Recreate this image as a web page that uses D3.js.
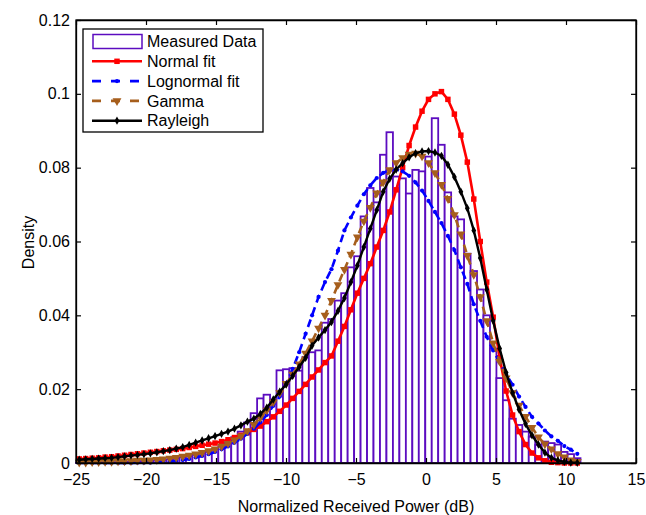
<!DOCTYPE html>
<html>
<head>
<meta charset="utf-8">
<script src="https://cdn.jsdelivr.net/npm/d3@7"></script>
<style>
body { margin: 0; background: #fff; }
text { font-family: "Liberation Sans", Arial, Helvetica, sans-serif; }
</style>
</head>
<body>
<div id="chart"></div>
<script>
// histogram bins (dB) and densities
var binStart = -25;
var binWidth = 0.462;
var measured = [0.0001,0,0.0001,0.0002,0.0001,0.0002,0.0002,0.0003,0.0003,0.0004,
  0.0005,0.0006,0.0007,0.0008,0.001,0.0012,0.0015,0.0018,0.0022,0.0026,
  0.003,0.0038,0.0045,0.0055,0.007,0.0085,0.011,0.0135,0.0175,0.0185,
  0.017,0.0251,0.0254,0.0257,0.025,0.0287,0.030,0.0305,0.038,0.039,
  0.044,0.046,0.053,0.056,0.0668,0.0745,0.0706,0.0835,0.0896,0.0776,
  0.0771,0.073,0.0794,0.079,0.083,0.0934,0.0862,0.0733,0.0668,0.066,
  0.0567,0.052,0.047,0.040,0.031,0.023,0.017,0.012,0.0103,0.0085,
  0.0071,0.0049,0.0058,0.0054,0.005,0.003,0.0024,0.0013];

// fitted densities at each bin centre
var normalFit = [0.0011,0.0012,0.0013,0.0014,0.0016,0.0017,0.0019,0.0021,0.0023,0.0025,
  0.0027,0.0029,0.0031,0.0033,0.0035,0.0037,0.0039,0.0042,0.0045,0.0048,
  0.0051,0.0054,0.0058,0.0063,0.0069,0.0075,0.0082,0.0091,0.0100,0.0112,
  0.0125,0.0140,0.0157,0.0175,0.0194,0.0213,0.0233,0.0252,0.0272,0.0290,
  0.0330,0.0370,0.0415,0.0460,0.0500,0.0540,0.0585,0.0630,0.0680,0.0740,
  0.0800,0.0860,0.0910,0.0953,0.0985,0.1000,0.1006,0.0985,0.0945,0.0888,
  0.0815,0.0715,0.0600,0.0490,0.0395,0.0285,0.0195,0.0130,0.0085,0.0050,
  0.0027,0.0014,0.0006,0.0002,0.0001,0,0,0];
var lognormalFit = [0,0,0,0,0,0,0,0,0,0.0001,
  0.0001,0.0001,0.0002,0.0003,0.0004,0.0006,0.0008,0.0011,0.0015,0.0019,
  0.0024,0.0030,0.0037,0.0045,0.0055,0.0066,0.0079,0.0093,0.0110,0.0130,
  0.0155,0.0180,0.0215,0.0255,0.0300,0.0350,0.0400,0.0450,0.0490,0.0525,
  0.0575,0.0630,0.0665,0.0697,0.0728,0.0752,0.0772,0.0786,0.0793,0.0795,
  0.0790,0.0778,0.0760,0.0738,0.0710,0.0680,0.0650,0.0615,0.0577,0.0530,
  0.0485,0.0430,0.0385,0.0342,0.0305,0.0272,0.0240,0.0212,0.0180,0.0152,
  0.0125,0.0107,0.0088,0.0072,0.0060,0.0046,0.0036,0.0025];
var gammaFit = [0.0002,0.0002,0.0003,0.0003,0.0004,0.0004,0.0005,0.0005,0.0006,0.0007,
  0.0007,0.0008,0.0009,0.0011,0.0013,0.0015,0.0018,0.0021,0.0024,0.0028,
  0.0033,0.0038,0.0045,0.0053,0.0062,0.0073,0.0087,0.0104,0.0123,0.0143,
  0.0165,0.0190,0.0215,0.0240,0.0268,0.0297,0.0330,0.0365,0.0400,0.0440,
  0.0483,0.0524,0.0565,0.0612,0.0655,0.0692,0.0731,0.0761,0.0794,0.0813,
  0.0827,0.0836,0.0839,0.0831,0.0813,0.0786,0.0754,0.0716,0.0672,0.0620,
  0.0562,0.0510,0.0450,0.0385,0.0325,0.0275,0.0230,0.0190,0.0156,0.0126,
  0.0096,0.0070,0.0051,0.0038,0.0025,0.0016,0.0008,0.0004];
var rayleighFit = [0.0009,0.0010,0.0011,0.0012,0.0013,0.0014,0.0016,0.0018,0.0020,0.0022,
  0.0024,0.0026,0.0029,0.0032,0.0035,0.0039,0.0043,0.0049,0.0055,0.0061,
  0.0067,0.0073,0.0079,0.0085,0.0093,0.0102,0.0112,0.0120,0.0133,0.0150,
  0.0172,0.0193,0.0213,0.0236,0.0260,0.0285,0.0318,0.0340,0.0360,0.0382,
  0.0412,0.0447,0.0490,0.0535,0.0585,0.0635,0.0685,0.0735,0.0770,0.0795,
  0.0812,0.0828,0.0839,0.0844,0.0845,0.0841,0.0832,0.0808,0.0775,0.0735,
  0.0690,0.0630,0.0555,0.0470,0.0385,0.0310,0.0245,0.0190,0.0145,0.0106,
  0.0075,0.0050,0.0028,0.0014,0.0007,0.0003,0.0001,0.0001];

var xTicks = [-25, -20, -15, -10, -5, 0, 5, 10, 15];
var xTickLabels = ["\u221225", "\u221220", "\u221215", "\u221210", "\u22125", "0", "5", "10", "15"];
var yTicks = [0, 0.02, 0.04, 0.06, 0.08, 0.1, 0.12];
var yTickLabels = ["0", "0.02", "0.04", "0.06", "0.08", "0.1", "0.12"];
var legendLabels = ["Measured Data", "Normal fit", "Lognormal fit", "Gamma", "Rayleigh"];

var width = 646, height = 515;
var margin = { top: 20, right: 10, bottom: 52, left: 76 };

var purple = "#5c0cc0", brown = "#a65e1c";

var x = d3.scaleLinear().domain([-25, 15]).range([margin.left, width - margin.right]);
var y = d3.scaleLinear().domain([0, 0.12]).range([height - margin.bottom, margin.top]);

var svg = d3.select("#chart").append("svg")
    .attr("width", width)
    .attr("height", height);

var centers = measured.map(function (d, i) { return binStart + binWidth * (i + 0.5); });

// histogram bars
svg.append("g").selectAll("rect")
    .data(measured)
    .enter().append("rect")
    .attr("x", function (d, i) { return x(binStart + binWidth * i); })
    .attr("width", x(binWidth) - x(0))
    .attr("y", function (d) { return y(d); })
    .attr("height", function (d) { return y(0) - y(d); })
    .attr("fill", "#fff")
    .attr("stroke", purple)
    .attr("stroke-width", 1.8);

var series = [
  { name: "Normal fit", values: normalFit, color: "#ff0000", dash: null, width: 2.6,
    symbol: d3.symbolSquare, size: 30, rotate: 0 },
  { name: "Lognormal fit", values: lognormalFit, color: "#0000ff", dash: "8,5", width: 2.6,
    symbol: d3.symbolCircle, size: 14, rotate: 0 },
  { name: "Gamma", values: gammaFit, color: brown, dash: "8,5", width: 2.6,
    symbol: d3.symbolTriangle, size: 34, rotate: 180 },
  { name: "Rayleigh", values: rayleighFit, color: "#000", dash: null, width: 2.4,
    symbol: d3.symbolDiamond, size: 20, rotate: 0 }
];

var line = d3.line()
    .x(function (d, i) { return x(centers[i]); })
    .y(function (d) { return y(d); });

series.forEach(function (s) {
  var g = svg.append("g");
  g.append("path")
      .attr("d", line(s.values))
      .attr("fill", "none")
      .attr("stroke", s.color)
      .attr("stroke-width", s.width)
      .attr("stroke-dasharray", s.dash);
  g.selectAll("path.mk")
      .data(s.values)
      .enter().append("path")
      .attr("class", "mk")
      .attr("d", d3.symbol(s.symbol, s.size))
      .attr("transform", function (d, i) {
        return "translate(" + x(centers[i]) + "," + y(d) + ") rotate(" + s.rotate + ")";
      })
      .attr("fill", s.color);
});

// axes with inside ticks, MATLAB style
var xAxis = d3.axisBottom(x).tickValues(xTicks)
    .tickFormat(function (d, i) { return xTickLabels[i]; })
    .tickSizeInner(-5).tickSizeOuter(0).tickPadding(11);
var yAxis = d3.axisLeft(y).tickValues(yTicks)
    .tickFormat(function (d, i) { return yTickLabels[i]; })
    .tickSizeInner(-5).tickSizeOuter(0).tickPadding(6);

svg.append("g").attr("transform", "translate(0," + y(0) + ")").call(xAxis);
svg.append("g").attr("transform", "translate(" + x(-25) + ",0)").call(yAxis);
svg.append("g").attr("transform", "translate(0," + y(0.12) + ")")
    .call(d3.axisTop(x).tickValues(xTicks).tickFormat("").tickSizeInner(-5).tickSizeOuter(0));
svg.append("g").attr("transform", "translate(" + x(15) + ",0)")
    .call(d3.axisRight(y).tickValues(yTicks).tickFormat("").tickSizeInner(-5).tickSizeOuter(0));

svg.selectAll(".tick line").attr("stroke", "#000").attr("stroke-width", 1.2);
svg.selectAll(".domain").attr("stroke", "#000").attr("stroke-width", 1.3);
svg.selectAll(".tick text").attr("font-size", 16).attr("fill", "#000")
    .style("font-family", "'Liberation Sans', Arial, sans-serif");

svg.append("rect")
    .attr("x", x(-25)).attr("y", y(0.12))
    .attr("width", x(15) - x(-25)).attr("height", y(0) - y(0.12))
    .attr("fill", "none").attr("stroke", "#000").attr("stroke-width", 1.3);

// axis titles
svg.append("text")
    .attr("x", (x(-25) + x(15)) / 2)
    .attr("y", 512)
    .attr("text-anchor", "middle")
    .attr("font-size", 16)
    .text("Normalized Received Power (dB)");
svg.append("text")
    .attr("transform", "translate(34," + (y(0.06) + 1) + ") rotate(-90)")
    .attr("text-anchor", "middle")
    .attr("font-size", 16)
    .text("Density");

// legend
var legend = svg.append("g").attr("transform", "translate(83,29)");
legend.append("rect")
    .attr("width", 180).attr("height", 103)
    .attr("fill", "#fff").attr("stroke", "#000").attr("stroke-width", 1.3);

var rowY = function (i) { return 12.5 + i * 19.8; };

legend.append("rect")
    .attr("x", 10).attr("y", rowY(0) - 7)
    .attr("width", 49).attr("height", 14)
    .attr("fill", "#fff").attr("stroke", purple).attr("stroke-width", 1.5);

series.forEach(function (s, k) {
  var yy = rowY(k + 1);
  legend.append("line")
      .attr("x1", 9).attr("x2", 59).attr("y1", yy).attr("y2", yy)
      .attr("stroke", s.color).attr("stroke-width", s.width)
      .attr("stroke-dasharray", s.dash ? "9,10" : null);
  legend.append("path")
      .attr("d", d3.symbol(s.symbol, s.size))
      .attr("transform", "translate(34," + yy + ") rotate(" + s.rotate + ")")
      .attr("fill", s.color);
});

legend.selectAll("text.lbl")
    .data(legendLabels)
    .enter().append("text")
    .attr("class", "lbl")
    .attr("x", 64)
    .attr("y", function (d, i) { return rowY(i); })
    .attr("dy", "0.36em")
    .attr("font-size", 16)
    .text(function (d) { return d; });
</script>
</body>
</html>
